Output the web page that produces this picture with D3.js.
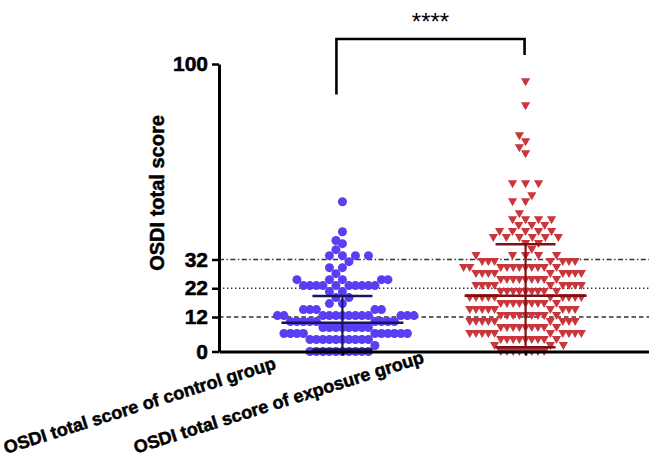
<!DOCTYPE html>
<html><head><meta charset="utf-8">
<script src="https://cdn.jsdelivr.net/npm/d3@7"></script>
<style>
body{margin:0;background:#fff}
svg{display:block}
text{font-family:"Liberation Sans",Arial,Helvetica,sans-serif}
.heavy{stroke:#000;stroke-width:0.5px;paint-order:stroke}
</style>
</head><body>
<svg id="chart" width="649" height="466"></svg>
<script>
// ---------- data ----------
const categories = ["OSDI total score of control group", "OSDI total score of exposure group"];
const yTickValues = [0, 12, 22, 32, 100];
const referenceLevels = [12, 22, 32];

// frequency table: score -> number of subjects
const controlScores = [0, 2.08, 4.17, 6.25, 8.33, 10.42, 12.5, 14.58, 16.67, 18.75, 20.83, 22.92, 25, 27.08, 29.17, 31.25, 33.33, 35.42, 37.5, 38.6, 41.67, 52.08];
const controlCounts = [10, 1, 10, 10, 8, 9, 13, 5, 2, 2, 2, 10, 5, 1, 2, 1, 4, 1, 1, 1, 1, 1];

const exposureScores = [0, 2.08, 4.17, 6.25, 8.33, 10.42, 12.5, 14.58, 16.67, 18.75, 20.83, 22.92, 25, 27.08, 29.17, 31.25, 33.33, 35.42, 37.5, 39.58, 41.67, 43.75, 45.83, 47.92, 52.08, 54.17, 58.33, 68.75, 70.83, 72.92, 75, 85.42, 93.75];
const exposureCounts = [8, 3, 9, 10, 9, 9, 9, 9, 9, 10, 9, 9, 9, 9, 11, 7, 5, 1, 2, 6, 5, 3, 4, 1, 2, 1, 3, 1, 1, 1, 1, 1, 1];

const groupMeans = [10.0, 19.4];
const groupSDs = [9.3, 17.9];

// significance bracket in score units: left end, top, right end
const bracketLevels = [89.4, 108.7, 103.1];
const significanceLabel = "****";

// ---------- chart ----------
const W = 649, H = 466;
const svg = d3.select("#chart");

const x = d3.scalePoint().domain(categories).range([219, 649]).padding(0.674);
const y = d3.scaleLinear().domain([0, 100]).range([351.5, 64]);

const colors = ["#5a3ef2", "#c9363b"];
const lineColors = ["#17175c", "#7a1216"];

// reference lines
const dashes = {12: "4.5,3", 22: "1.4,2.6", 32: "5,2.5,1.4,2.5"};
svg.append("g").selectAll("line").data(referenceLevels).join("line")
  .attr("x1", 219).attr("x2", W)
  .attr("y1", d => y(d)).attr("y2", d => y(d))
  .attr("stroke", "#333").attr("stroke-width", 1.3)
  .attr("stroke-dasharray", d => dashes[d]);

// greedy swarm layout (ascending order, nearest-to-centre free position)
function expand(scores, counts) {
  const out = [];
  scores.forEach((s, i) => { for (let k = 0; k < counts[i]; k++) out.push(s); });
  return out;
}
function swarm(values, dyPx, sDiff, sDense, sSparse, sparseMax) {
  const counts = d3.rollup(values, g => g.length, v => v);
  const sorted = values.slice().sort((a, b) => a - b);
  const placed = [];
  sorted.forEach((v, idx) => {
    const py = y(v);
    const sSame = counts.get(v) <= sparseMax ? sSparse : sDense;
    const near = placed.filter(p => Math.abs(p.py - py) < dyPx);
    const clr = p => (p.v === v ? sSame : sDiff);
    const cands = [0];
    near.forEach(p => cands.push(p.dx + clr(p), p.dx - clr(p)));
    const valid = cands.filter(c => near.every(p => Math.abs(c - p.dx) >= clr(p) - 1e-6));
    valid.sort((a, b) => Math.abs(a) - Math.abs(b) || (idx % 2 ? a - b : b - a));
    placed.push({v, py, dx: valid[0]});
  });
  return placed;
}

const controlPts = swarm(expand(controlScores, controlCounts), 9, 6.5, 6.5, 13, 4);
const exposurePts = swarm(expand(exposureScores, exposureCounts), 9, 6.2, 6.2, 13, 6);

svg.append("g").selectAll("circle").data(controlPts).join("circle")
  .attr("cx", d => x(categories[0]) + d.dx)
  .attr("cy", d => y(d.v))
  .attr("r", 4.5)
  .attr("fill", colors[0]);

const tri = "M-4.6,-3.6L4.6,-3.6L0,4.4Z";
svg.append("g").selectAll("path").data(exposurePts).join("path")
  .attr("d", tri)
  .attr("transform", d => `translate(${x(categories[1]) + d.dx},${y(d.v)})`)
  .attr("fill", colors[1]);

// mean and SD
const summary = categories.map((c, i) => ({c, i, m: groupMeans[i], sd: groupSDs[i]}));
const sg = svg.append("g");
summary.forEach(d => {
  const cx = x(d.c);
  const g = sg.append("g").attr("stroke", lineColors[d.i]).attr("fill", "none");
  g.append("line").attr("x1", cx - 61).attr("x2", cx + 61).attr("y1", y(d.m)).attr("y2", y(d.m)).attr("stroke-width", 2.6);
  g.append("line").attr("x1", cx).attr("x2", cx).attr("y1", y(d.m + d.sd)).attr("y2", y(Math.max(0, d.m - d.sd))).attr("stroke-width", 2.2);
  [d.m + d.sd, Math.max(0, d.m - d.sd)].forEach(v => {
    g.append("line").attr("x1", cx - 30).attr("x2", cx + 30).attr("y1", y(v)).attr("y2", y(v)).attr("stroke-width", 2.4);
  });
});

// axes
const yAxis = svg.append("g").attr("transform", "translate(219,0)")
  .call(d3.axisLeft(y).tickValues(yTickValues).tickSize(7).tickSizeOuter(0).tickPadding(4));
yAxis.select(".domain").attr("stroke", "#000").attr("stroke-width", 3);
yAxis.selectAll(".tick line").attr("stroke", "#000").attr("stroke-width", 2.5);
yAxis.selectAll(".tick text").attr("font-size", 21).attr("font-weight", "bold").attr("fill", "#000")
  .attr("font-family", "Liberation Sans, Arial, sans-serif").attr("class", "heavy");

const xAxis = svg.append("g").attr("transform", `translate(0,${y(0)})`)
  .call(d3.axisBottom(x).tickSize(4).tickSizeOuter(0));
xAxis.select(".domain").attr("stroke", "#000").attr("stroke-width", 3);
xAxis.selectAll(".tick line").attr("stroke", "#000").attr("stroke-width", 2.5);
const labelPos = [[-66, 17], [-101, 11]];
xAxis.selectAll(".tick text")
  .attr("font-size", 18).attr("font-weight", "bold").attr("fill", "#000")
  .attr("font-family", "Liberation Sans, Arial, sans-serif").attr("class", "heavy")
  .attr("text-anchor", "end").attr("dy", null).attr("y", null)
  .attr("transform", (d, i) => `translate(${labelPos[i][0]},${labelPos[i][1]}) rotate(-17.5)`);

// y title
svg.append("text").attr("class", "heavy")
  .attr("transform", "translate(164,193) rotate(-90)")
  .attr("text-anchor", "middle")
  .attr("font-size", 20).attr("font-weight", "bold")
  .text("OSDI total score");

// significance bracket
const bx0 = x(categories[0]) - 6, bx1 = x(categories[1]) - 1;
svg.append("path")
  .attr("d", `M${bx0},${y(bracketLevels[0])}V${y(bracketLevels[1])}H${bx1}V${y(bracketLevels[2])}`)
  .attr("fill", "none").attr("stroke", "#000").attr("stroke-width", 2.6);
svg.append("text")
  .attr("x", (bx0 + bx1) / 2).attr("y", 30)
  .attr("text-anchor", "middle").attr("font-size", 24)
  .text(significanceLabel);
</script>
</body></html>
